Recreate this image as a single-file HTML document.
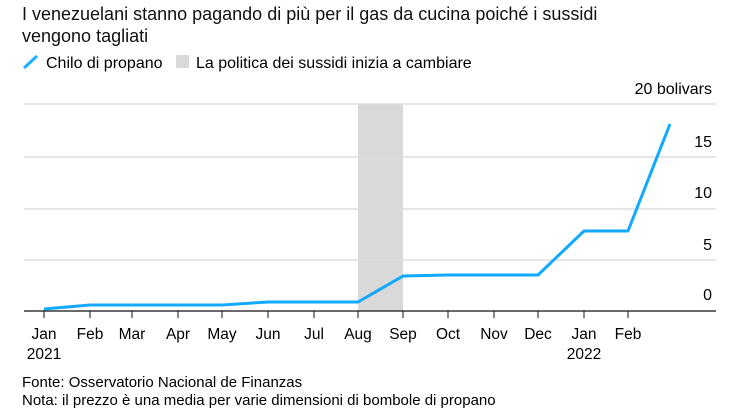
<!DOCTYPE html>
<html><head><meta charset="utf-8"><style>
body{margin:0;background:#fff;font-family:"Liberation Sans",sans-serif;color:#111}
</style></head><body>
<svg width="752" height="415" xmlns="http://www.w3.org/2000/svg" font-family="Liberation Sans, sans-serif">
<text x="22" y="20" font-size="18" fill="#111">I venezuelani stanno pagando di più per il gas da cucina poiché i sussidi</text>
<text x="22" y="42" font-size="18" fill="#111">vengono tagliati</text>
<line x1="24" y1="68" x2="37" y2="56" stroke="#1ab2ff" stroke-width="3"/>
<text x="46" y="68" font-size="16">Chilo di propano</text>
<rect x="176" y="55" width="13" height="13" fill="#d9d9d9"/>
<text x="196" y="68" font-size="16">La politica dei sussidi inizia a cambiare</text>
<rect x="358" y="104" width="45" height="207" fill="#d9d9d9"/>
<g stroke="#ddd" stroke-width="1.5">
<line x1="24" y1="104" x2="716" y2="104"/><line x1="24" y1="157" x2="716" y2="157"/>
<line x1="24" y1="209" x2="716" y2="209"/><line x1="24" y1="260" x2="716" y2="260"/>
</g>
<line x1="24" y1="311" x2="716" y2="311" stroke="#111" stroke-width="1.3"/>
<g stroke="#111" stroke-width="1">
<line x1="44" y1="311" x2="44" y2="318"/><line x1="90" y1="311" x2="90" y2="318"/><line x1="132" y1="311" x2="132" y2="318"/><line x1="178" y1="311" x2="178" y2="318"/><line x1="222" y1="311" x2="222" y2="318"/><line x1="268" y1="311" x2="268" y2="318"/><line x1="314" y1="311" x2="314" y2="318"/><line x1="358" y1="311" x2="358" y2="318"/><line x1="403" y1="311" x2="403" y2="318"/><line x1="448" y1="311" x2="448" y2="318"/><line x1="494" y1="311" x2="494" y2="318"/><line x1="538" y1="311" x2="538" y2="318"/><line x1="584" y1="311" x2="584" y2="318"/><line x1="628" y1="311" x2="628" y2="318"/>
</g>
<g font-size="15.5" text-anchor="middle">
<text x="44" y="339">Jan</text><text x="90" y="339">Feb</text><text x="132" y="339">Mar</text><text x="178" y="339">Apr</text><text x="222" y="339">May</text><text x="268" y="339">Jun</text><text x="314" y="339">Jul</text><text x="358" y="339">Aug</text><text x="403" y="339">Sep</text><text x="448" y="339">Oct</text><text x="494" y="339">Nov</text><text x="538" y="339">Dec</text><text x="584" y="339">Jan</text><text x="628" y="339">Feb</text>
<text x="44" y="359">2021</text><text x="584" y="359">2022</text>
</g>
<g font-size="16" text-anchor="end">
<text x="712" y="94">20 bolivars</text><text x="712" y="147">15</text><text x="712" y="198">10</text><text x="712" y="250">5</text><text x="712" y="300">0</text>
</g>
<polyline fill="none" stroke="#12aaff" stroke-width="3" stroke-linejoin="round" points="44,309 90,305 132,305 178,305 222,305 268,302 314,302 358,302 403,276 448,275 494,275 538,275 584,231 628,231 670,124"/>
<text x="22" y="387" font-size="15">Fonte: Osservatorio Nacional de Finanzas</text>
<text x="22" y="405" font-size="15">Nota: il prezzo è una media per varie dimensioni di bombole di propano</text>
</svg>
</body></html>
